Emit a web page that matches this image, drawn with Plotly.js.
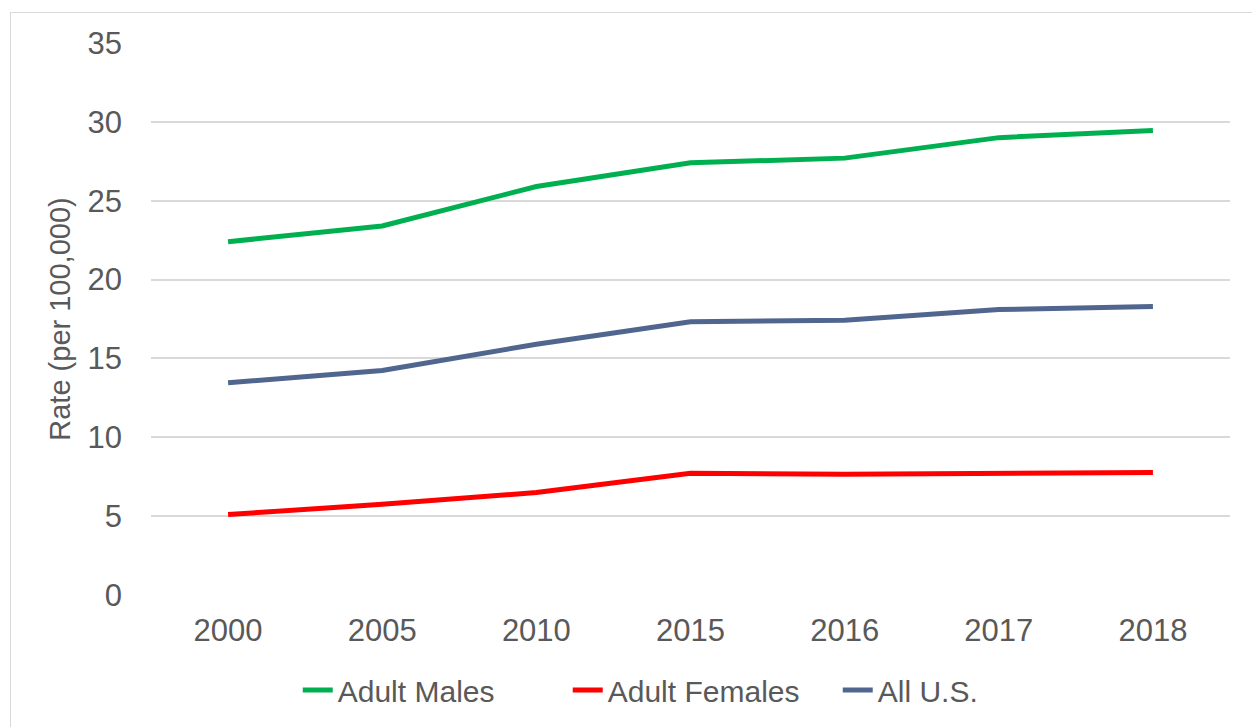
<!DOCTYPE html>
<html>
<head>
<meta charset="utf-8">
<script src="https://cdn.plot.ly/plotly-3.0.1.min.js"></script>
<style>
  html, body { margin: 0; padding: 0; background: #ffffff; }
  #wrap { position: relative; width: 1252px; height: 727px; overflow: hidden; }
  #frame { position: absolute; left: 10px; top: 12px; width: 1400px; height: 900px;
           border: 1px solid #d9d9d9; box-sizing: border-box; pointer-events: none; }
  #chart { position: absolute; left: 0; top: 0; width: 1252px; height: 727px; }
</style>
</head>
<body>
<div id="wrap">
  <div id="chart"></div>
  <div id="frame"></div>
</div>
<script>
const years = ["2000", "2005", "2010", "2015", "2016", "2017", "2018"];
const adultMales = [22.4, 23.4, 25.9, 27.4, 27.7, 29.0, 29.45];
const adultFemales = [5.1, 5.75, 6.5, 7.72, 7.66, 7.7, 7.77];
const allUS = [13.46, 14.24, 15.9, 17.32, 17.42, 18.1, 18.3];

const seriesNames = ["Adult Males", "Adult Females", "All U.S."];
const seriesColors = ["#00b050", "#ff0000", "#51668f"];
const seriesValues = [adultMales, adultFemales, allUS];

const FONT = "Liberation Sans, Arial, sans-serif";

const traces = seriesValues.map((vals, i) => ({
  type: "scatter",
  mode: "lines",
  x: years,
  y: vals,
  name: seriesNames[i],
  line: { color: seriesColors[i], width: 5 },
  hoverinfo: "x+y+name"
}));

const layout = {
  width: 1252,
  height: 727,
  margin: { l: 151, r: 22, t: 43, b: 131, pad: 0 },
  paper_bgcolor: "rgba(0,0,0,0)",
  plot_bgcolor: "rgba(0,0,0,0)",
  font: { family: FONT, color: "#595959", size: 30 },
  showlegend: true,
  legend: {
    orientation: "h",
    x: 0.136, xanchor: "left",
    y: -0.17, yanchor: "middle",
    font: { family: FONT, size: 30, color: "#595959" },
    itemwidth: 30,
    entrywidth: 225,
    entrywidthmode: "pixels",
    tracegroupgap: 0
  },
  xaxis: {
    type: "category",
    range: [-0.5, 6.5],
    showgrid: false,
    zeroline: false,
    showline: false,
    ticks: "",
    ticklabelstandoff: 14,
    tickfont: { family: FONT, size: 31, color: "#595959" },
    fixedrange: true
  },
  yaxis: {
    range: [0, 35],
    dtick: 5,
    tick0: 0,
    showgrid: true,
    gridcolor: "#d9d9d9",
    gridwidth: 2,
    zeroline: false,
    showline: false,
    ticks: "",
    ticklabelstandoff: 28,
    tickfont: { family: FONT, size: 31, color: "#595959" },
    title: { text: "Rate (per 100,000)", font: { family: FONT, size: 29, color: "#595959" }, standoff: 8 },
    fixedrange: true
  }
};

Plotly.newPlot("chart", traces, layout, { displayModeBar: false, staticPlot: true });
</script>
</body>
</html>
